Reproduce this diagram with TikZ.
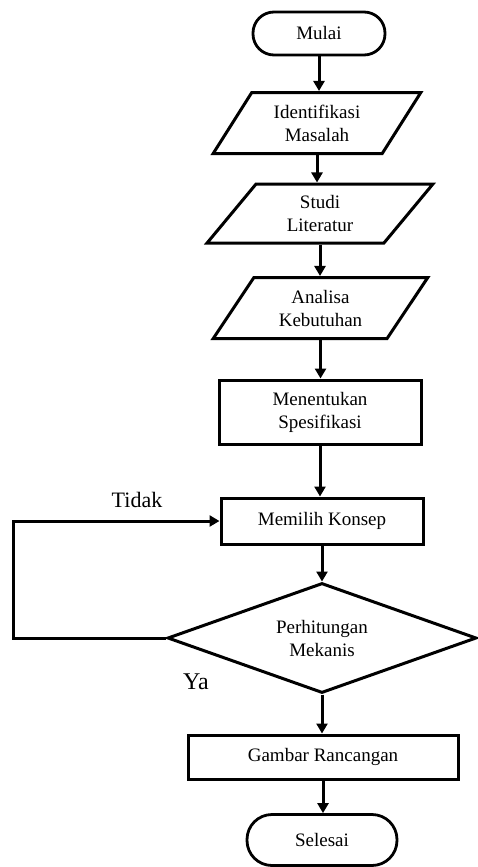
\documentclass[tikz,border=0pt]{standalone}
\usepackage{fontspec}
\setmainfont{Liberation Serif}
\usetikzlibrary{shapes.geometric,arrows.meta}
\begin{document}
\begin{tikzpicture}[x=1pt,y=1pt]
\tikzstyle{every node}+=[inner sep=0pt, font=\fontsize{19}{23}\selectfont, align=center]
\tikzstyle{terminal}=[draw, rectangle, line width=2.8pt]
\tikzstyle{data}=[draw, trapezium, trapezium left angle=55, trapezium right angle=125, trapezium stretches=true, line width=3pt, minimum height=61pt]
\tikzstyle{proses}=[draw, rectangle, line width=3pt]
\tikzstyle{keputusan}=[draw, diamond, aspect=2.8, line width=3pt, minimum width=309pt, minimum height=110pt]
\tikzstyle{panah}=[line width=3pt, -{Triangle[length=10pt,width=11pt]}]
\useasboundingbox (0,0) rectangle (478,-867);
\node[terminal, rounded corners=21pt, minimum width=132pt, minimum height=43pt] (mulai) at (319,-33.5) {Mulai};
\node[data, minimum width=208pt] (identifikasi) at (317,-123) {Identifikasi\\Masalah};
\node[data, minimum width=226pt, minimum height=59pt] (studi) at (320,-213.5) {Studi\\Literatur};
\node[data, minimum width=215pt] (analisa) at (320.5,-308) {Analisa\\Kebutuhan};
\node[proses, minimum width=202pt, minimum height=64pt] (spesifikasi) at (320,-412) {Menentukan\\Spesifikasi};
\node[proses, minimum width=202pt, minimum height=46pt] (konsep) at (322,-521) {Memilih Konsep};
\node[keputusan] (hitung) at (322,-638) {Perhitungan\\Mekanis};
\node[proses, minimum width=270pt, minimum height=44pt] (gambar) at (323,-757) {Gambar Rancangan};
\node[terminal, rounded corners=25pt, minimum width=150pt, minimum height=51pt] (selesai) at (322,-840) {Selesai};
\node[font=\fontsize{22}{26}\selectfont] (tidak) at (137,-500) {Tidak};
\node[font=\fontsize{24}{28}\selectfont] (ya) at (196,-682) {Ya};
\coordinate (kiri) at (13,-580);
\draw[panah] (mulai.south) -- (mulai.south |- identifikasi.north);
\draw[panah] (identifikasi.south) -- (identifikasi.south |- studi.north);
\draw[panah] (studi.south) -- (studi.south |- analisa.north);
\draw[panah] (analisa.south) -- (analisa.south |- spesifikasi.north);
\draw[panah] (spesifikasi.south) -- (spesifikasi.south |- konsep.north);
\draw[panah] (konsep.south) -- (konsep.south |- hitung.north);
\draw[panah] (hitung.west) -| (kiri) |- (konsep.west);
\draw[panah] (hitung.south) -- (hitung.south |- gambar.north);
\draw[panah] (gambar.south) -- (gambar.south |- selesai.north);
\end{tikzpicture}
\end{document}
